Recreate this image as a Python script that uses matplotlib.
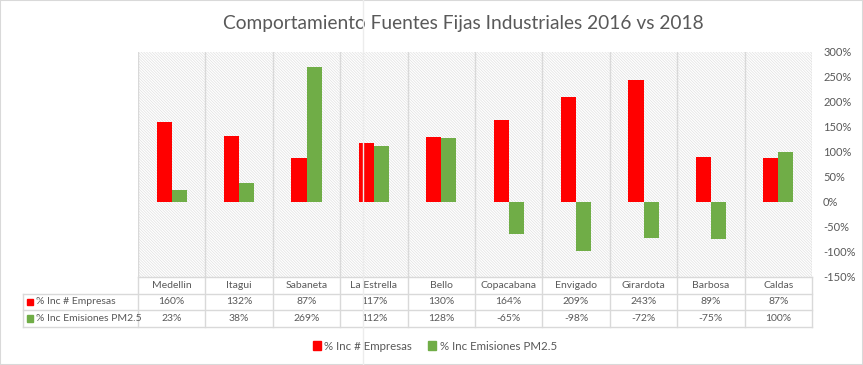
import matplotlib
matplotlib.use("Agg")
import matplotlib.pyplot as plt
import numpy as np
from matplotlib.patches import Rectangle
from matplotlib.lines import Line2D

# data
municipios = ["Medellin", "Itagui", "Sabaneta", "La Estrella", "Bello",
              "Copacabana", "Envigado", "Girardota", "Barbosa", "Caldas"]
inc_empresas = [160, 132, 87, 117, 130, 164, 209, 243, 89, 87]
inc_emisiones = [23, 38, 269, 112, 128, -65, -98, -72, -75, 100]
serie_empresas = "% Inc # Empresas"
serie_emisiones = "% Inc Emisiones PM2.5"
titulo = "Comportamiento Fuentes Fijas Industriales 2016 vs 2018"
yticks = [-150, -100, -50, 0, 50, 100, 150, 200, 250, 300]

rojo = "#FF0000"
verde = "#70AD47"
gris_txt = "#595959"
gris_lin = "#d9d9d9"

plt.rcParams["font.family"] = ["Lato", "DejaVu Sans"]
plt.rcParams["hatch.linewidth"] = 0.5

W, H = 863, 365
fig = plt.figure(figsize=(W / 100, H / 100), dpi=100)

def px(x0, y0, x1, y1):
    # pixel box (top-left origin) -> figure fraction rect
    return [x0 / W, 1 - y1 / H, (x1 - x0) / W, (y1 - y0) / H]

left, right, top, bottom = 138, 812, 51.7, 276.7
ax = fig.add_axes(px(left, top, right, bottom))
x = np.arange(len(municipios))
bw = 0.225
ax.bar(x - bw / 2, inc_empresas, bw, color=rojo, zorder=3)
ax.bar(x + bw / 2, inc_emisiones, bw, color=verde, zorder=3)
ax.set_xlim(-0.5, len(municipios) - 0.5)
ax.set_ylim(-150, 300)

# hatched plot area
ax.add_patch(Rectangle((0, 0), 1, 1, transform=ax.transAxes, facecolor="white",
                       edgecolor="#e0e0e0", hatch="\\" * 12, lw=0, zorder=0))
for b in np.arange(-0.5, len(municipios), 1.0):
    ax.axvline(b, color=gris_lin, lw=1, zorder=1)

for s in ax.spines.values():
    s.set_visible(False)
ax.set_xticks([])
ax.yaxis.tick_right()
ax.set_yticks(yticks)
ax.set_yticklabels([f"{v}%" for v in yticks], color=gris_txt, fontsize=8)
ax.tick_params(axis="y", length=0, pad=8)

fig.text(463 / W, 1 - 24 / H, titulo, ha="center", va="center", fontsize=13.8, color=gris_txt)

# data table under the plot
tb_left, tb_bottom = 23, 327.3
ta = fig.add_axes(px(tb_left, bottom, right, tb_bottom))
cat_w = (right - left) / len(municipios)
hdr = (left - tb_left) / cat_w
ta.set_xlim(-0.5 - hdr, len(municipios) - 0.5)
ta.set_ylim(0, 3)
ta.axis("off")
xb = -0.5 - hdr
ta.plot([-0.5, 9.5], [3, 3], color=gris_lin, lw=1, clip_on=False)
for yy in [0, 1, 2]:
    ta.plot([xb, 9.5], [yy, yy], color=gris_lin, lw=1, clip_on=False)
ta.plot([xb, xb], [0, 2], color=gris_lin, lw=1, clip_on=False)
for b in np.arange(-0.5, len(municipios), 1.0):
    ta.plot([b, b], [0, 3], color=gris_lin, lw=1, clip_on=False)
for i, m in enumerate(municipios):
    ta.text(i, 2.5, m, ha="center", va="center", fontsize=7.5, color=gris_txt)
    ta.text(i, 1.5, f"{inc_empresas[i]}%", ha="center", va="center", fontsize=7.5, color=gris_txt)
    ta.text(i, 0.5, f"{inc_emisiones[i]}%", ha="center", va="center", fontsize=7.5, color=gris_txt)
for yy, nombre, c in [(1.5, serie_empresas, rojo), (0.5, serie_emisiones, verde)]:
    ta.add_patch(Rectangle((xb + 0.06, yy - 0.2), 0.09, 0.4, color=c, clip_on=False))
    ta.text(xb + 0.2, yy, nombre, ha="left", va="center", fontsize=7.5, color=gris_txt)

handles = [Rectangle((0, 0), 1, 1, color=rojo), Rectangle((0, 0), 1, 1, color=verde)]
fig.legend(handles, [serie_empresas, serie_emisiones], loc="center",
           bbox_to_anchor=(435 / W, 1 - 346 / H), ncol=2, frameon=False,
           fontsize=8.3, labelcolor=gris_txt, handlelength=0.7, handleheight=0.7,
           handletextpad=0.3, columnspacing=1.4)

# chart border and the faint vertical line over the image
fig.add_artist(Rectangle((0, 0), 1, 1, transform=fig.transFigure, fill=False,
                         edgecolor=gris_lin, lw=1.5))
fig.add_artist(Line2D([363 / W, 363 / W], [0, 1], color="#ececec", lw=1, zorder=10))

fig.savefig("out.png", dpi=100)
